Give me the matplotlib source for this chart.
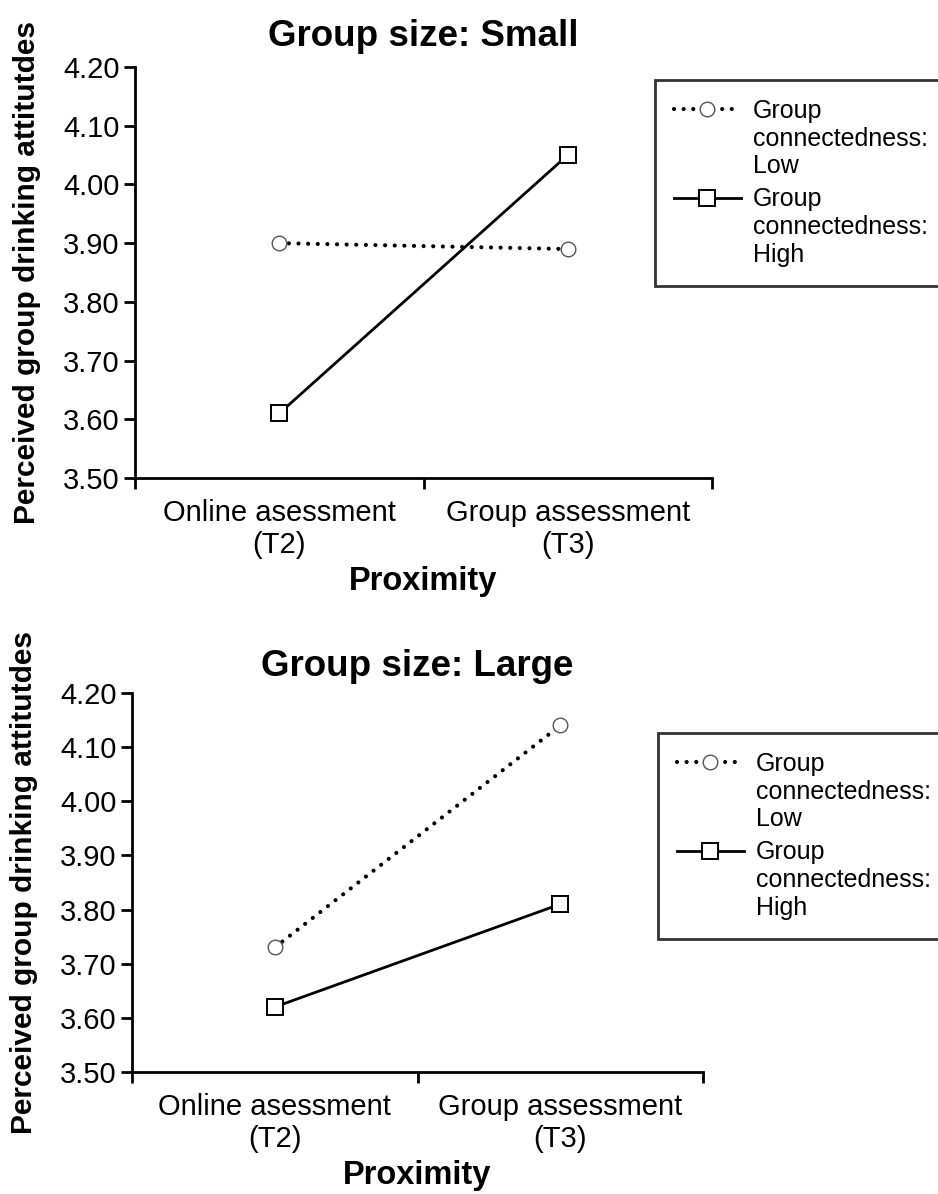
import matplotlib
matplotlib.use("Agg")
import matplotlib.pyplot as plt

plt.rcParams['font.family'] = ['Liberation Sans', 'DejaVu Sans']

categories = ["Online asessment\n(T2)", "Group assessment\n(T3)"]
series_names = ["Group\nconnectedness:\nLow", "Group\nconnectedness:\nHigh"]
small_low = [3.90, 3.89]
small_high = [3.61, 4.05]
large_low = [3.73, 4.14]
large_high = [3.62, 3.81]
yticks = [3.50, 3.60, 3.70, 3.80, 3.90, 4.00, 4.10, 4.20]
titles = ["Group size: Small", "Group size: Large"]
ylabel = "Perceived group drinking attitutdes"
xlabel = "Proximity"

W, H = 938, 1194
fig = plt.figure(figsize=(W / 100, H / 100), dpi=100)

def px_axes(l, r, t, b):
    return [l / W, 1 - b / H, (r - l) / W, (b - t) / H]

panels = [
    (px_axes(135, 712, 67, 478), small_low, small_high, titles[0], (655 / W, 1 - 80 / H), 15),
    (px_axes(132, 703, 693, 1072), large_low, large_high, titles[1], (658 / W, 1 - 733 / H), 12),
]

xpos = [0.5, 1.5]
for rect, low, high, title, legpos, tpad in panels:
    ax = fig.add_axes(rect)
    l1, = ax.plot(xpos, low, color='black', lw=3.0, linestyle=(0, (0.01, 2.3)),
                  dash_capstyle='round', marker='o', markersize=10.5,
                  markerfacecolor='white', markeredgecolor='#555555', markeredgewidth=1.0,
                  label=series_names[0], zorder=3)
    l2, = ax.plot(xpos, high, color='black', lw=2.0, linestyle='-',
                  marker='s', markersize=11, markerfacecolor='white',
                  markeredgecolor='black', markeredgewidth=1.4,
                  label=series_names[1], zorder=3)
    ax.set_xlim(0, 2)
    ax.set_ylim(3.5, 4.2)
    ax.set_yticks(yticks)
    ax.set_yticklabels([f"{v:.2f}" for v in yticks])
    ax.set_xticks([0, 1, 2])
    ax.set_xticklabels(["", "", ""])
    ax.set_xticks(xpos, minor=True)
    ax.set_xticklabels(categories, minor=True)
    ax.tick_params(axis='x', which='minor', length=0, pad=15, labelsize=21)
    ax.tick_params(axis='x', which='major', length=8, width=2)
    ax.tick_params(axis='y', length=8, width=2, labelsize=21, pad=3)
    for s in ['top', 'right']:
        ax.spines[s].set_visible(False)
    for s in ['left', 'bottom']:
        ax.spines[s].set_linewidth(2)
    ax.set_title(title, fontsize=26.5, fontweight='bold', pad=tpad)
    ax.set_xlabel(xlabel, fontsize=23.5, fontweight='bold', labelpad=5)
    ax.set_ylabel(ylabel, fontsize=21.5, fontweight='bold', labelpad=16)
    leg = fig.legend(handles=[l1, l2], loc='upper left', bbox_to_anchor=legpos,
                     bbox_transform=fig.transFigure, frameon=True, fancybox=False,
                     edgecolor='black', fontsize=18, handlelength=2.68,
                     handletextpad=0.48, labelspacing=0.36, borderpad=0.75,
                     handleheight=1.2, borderaxespad=0)
    leg.get_frame().set_linewidth(2)
    for col in leg._legend_handle_box.get_children():
        for hp in col.get_children():
            hp.align = 'top'

fig.savefig("out.png", dpi=100)
